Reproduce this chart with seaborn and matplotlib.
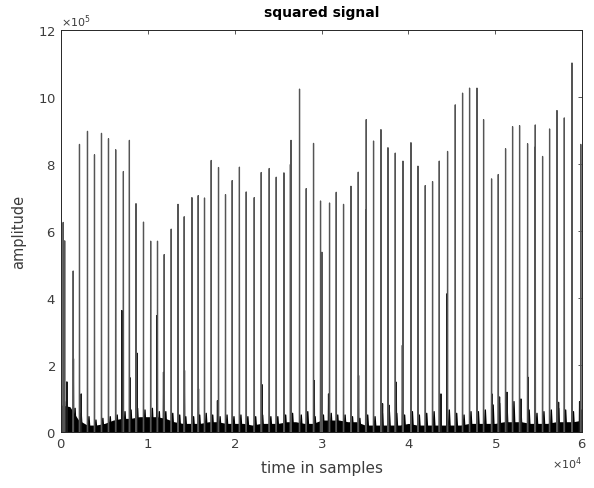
import matplotlib
matplotlib.use('Agg')
import matplotlib.pyplot as plt
import matplotlib.ticker as mticker
import numpy as np
import pandas as pd
import seaborn as sns

sns.set_theme(style='white')
plt.rcParams['font.family'] = ['DejaVu Sans']

# R-peak positions (samples) and heights (x1e5)
peak_samples = [230, 403, 1382, 2108, 3030, 3836, 4643, 5449, 6278, 7165, 7857, 8617,
                9481, 10310, 11094, 11866, 12672, 13455, 14170, 15057, 15782, 16508,
                17280, 18121, 18927, 19699, 20528, 21312, 22234, 23040, 23962, 24768,
                25655, 26400, 26473, 27452, 28224, 29065, 29871, 30032, 30908, 31680,
                32521, 33374, 34214, 35080, 35136, 35977, 36829, 37636, 38477, 39364,
                40285, 41092, 41933, 42774, 43546, 44502, 45389, 46230, 47036, 47889,
                48650, 49571, 50342, 51183, 51990, 52796, 53718, 54550, 54605, 55446,
                56252, 57104, 57946, 58832, 59846]
peak_amps = [6.25, 5.70, 4.80, 8.58, 8.97, 8.27, 8.91, 8.75, 8.42, 7.77, 8.70, 6.81,
             6.26, 5.69, 5.69, 5.29, 6.05, 6.79, 6.42, 6.99, 7.05, 6.98,
             8.10, 7.89, 7.08, 7.50, 7.90, 7.16, 6.99, 7.74, 7.86, 7.60,
             7.73, 7.98, 8.70, 10.23, 7.26, 8.61, 6.89, 5.36, 6.83, 7.15,
             6.79, 7.33, 7.75, 6.63, 9.32, 8.68, 9.02, 8.48, 8.32, 8.08,
             8.63, 7.93, 7.35, 7.47, 8.08, 8.37, 9.76, 10.11, 10.26, 10.26,
             9.32, 7.55, 7.68, 8.45, 9.11, 9.14, 8.60, 8.50, 9.16, 8.22,
             9.04, 9.59, 9.37, 11.01, 8.58]

# smaller secondary peaks (samples, x1e5)
small_samples = [657, 1417, 2304, 6993, 7949, 8721, 11025, 11785, 14204, 15817,
                 18000, 23121, 25690, 29146, 30794, 34250, 37014, 37786, 38592,
                 39300, 43742, 44433, 49616, 50491, 51343, 52956, 53763, 57290, 59707]
small_amps = [1.49, 2.18, 1.13, 3.62, 1.61, 2.35, 3.47, 1.78, 1.83, 1.28,
              0.93, 1.41, 0.84, 1.53, 1.13, 1.68, 0.84, 0.79, 1.48,
              2.58, 1.13, 4.12, 1.13, 1.04, 1.18, 0.98, 1.63, 0.88, 0.90]

# low bumps next to every beat (x1e5)
bump_samples = [600, 1600, 2300, 3200, 4000, 4800, 5650, 6450, 7350, 8050,
                8800, 9650, 10500, 11300, 12050, 12850, 13650, 14350, 15250, 15950,
                16700, 17450, 18300, 19100, 19900, 20700, 21500, 22400, 23200, 24150,
                24950, 25850, 26650, 27650, 28400, 29250, 30200, 31100, 31850, 32700,
                33550, 34400, 35300, 36150, 37000, 37800, 38650, 39550, 40450, 41250,
                42100, 42950, 43700, 44700, 45550, 46400, 47200, 48050, 48850, 49750,
                50500, 51350, 52150, 52950, 53900, 54800, 55600, 56450, 57300, 58100,
                59000, 59900]
bump_amps = [0.9, 0.7, 0.55, 0.45, 0.35, 0.4, 0.45, 0.5, 0.6, 0.65,
             0.7, 0.65, 0.7, 0.6, 0.6, 0.55, 0.5, 0.45, 0.45, 0.5,
             0.55, 0.5, 0.45, 0.5, 0.45, 0.5, 0.45, 0.45, 0.5, 0.45,
             0.45, 0.5, 0.55, 0.5, 0.6, 0.45, 0.5, 0.55, 0.5, 0.5,
             0.45, 0.4, 0.5, 0.45, 0.55, 0.6, 0.55, 0.5, 0.6, 0.5,
             0.55, 0.6, 0.45, 0.65, 0.55, 0.5, 0.6, 0.6, 0.65, 0.8,
             0.85, 0.8, 0.9, 0.7, 0.65, 0.55, 0.6, 0.65, 0.7, 0.65,
             0.6, 0.65]

# top of the dense black noise floor (x1e5), every 1000 samples
noise_samples = list(range(0, 60001, 1000))
noise_top = [0.80, 0.75, 0.35, 0.20, 0.20, 0.25, 0.35, 0.40, 0.40, 0.45,
             0.45, 0.45, 0.40, 0.30, 0.25, 0.25, 0.25, 0.30, 0.30, 0.25,
             0.25, 0.25, 0.20, 0.25, 0.25, 0.25, 0.30, 0.30, 0.25, 0.25,
             0.35, 0.35, 0.35, 0.30, 0.30, 0.20, 0.20, 0.20, 0.20, 0.20,
             0.25, 0.20, 0.20, 0.20, 0.20, 0.20, 0.20, 0.25, 0.25, 0.25,
             0.25, 0.30, 0.30, 0.30, 0.25, 0.25, 0.25, 0.30, 0.30, 0.30,
             0.35]

scale = 1e5


def spike_frame(samples, amps, half_w):
    rows = []
    for i, (s, a) in enumerate(zip(samples, amps)):
        rows.append([s - half_w, 0.0, i])
        rows.append([s, a * scale, i])
        rows.append([s + half_w, 0.0, i])
    return pd.DataFrame(rows, columns=['sample', 'amplitude', 'spike'])


tall = spike_frame(peak_samples, peak_amps, 25)
small = spike_frame(small_samples, small_amps, 40)
bumps = spike_frame(bump_samples, bump_amps, 120)
noise = pd.DataFrame({'sample': noise_samples,
                      'amplitude': np.array(noise_top) * scale})

fig, ax = plt.subplots(figsize=(5.94, 4.89), dpi=100)
fig.subplots_adjust(left=0.103, right=0.98, bottom=0.115, top=0.937)

ax.fill_between(noise['sample'], 0, noise['amplitude'], color='black', lw=0)
sns.lineplot(data=bumps, x='sample', y='amplitude', units='spike', estimator=None,
             ax=ax, color='black', lw=1.0, sort=False)
sns.lineplot(data=small, x='sample', y='amplitude', units='spike', estimator=None,
             ax=ax, color='#1a1a1a', lw=0.9, sort=False)
sns.lineplot(data=tall, x='sample', y='amplitude', units='spike', estimator=None,
             ax=ax, color='#555555', lw=0.9, sort=False)

ax.set_xlim(0, 60000)
ax.set_ylim(0, 12e5)
ax.set_xticks(np.arange(0, 60001, 10000))
ax.set_yticks(np.arange(0, 12e5 + 1, 2e5))
for axis, p in ((ax.xaxis, 4), (ax.yaxis, 5)):
    fmt = mticker.ScalarFormatter(useMathText=True)
    fmt.set_powerlimits((p, p))
    axis.set_major_formatter(fmt)
    axis.get_offset_text().set_fontsize(8)
    axis.get_offset_text().set_color('#4d4d4d')

ax.tick_params(direction='in', top=True, right=True, length=3, width=0.6,
               labelsize=9.5, colors='#3c3c3c', pad=4)
for sp in ax.spines.values():
    sp.set_color('#262626')
    sp.set_linewidth(0.7)

ax.set_title('squared signal', fontsize=10, fontweight='bold', color='black', pad=10)
ax.set_xlabel('time in samples', fontsize=11, color='#3c3c3c', labelpad=7)
ax.set_ylabel('amplitude', fontsize=10.5, color='#3c3c3c', labelpad=8)

fig.savefig('out.png', dpi=100)
